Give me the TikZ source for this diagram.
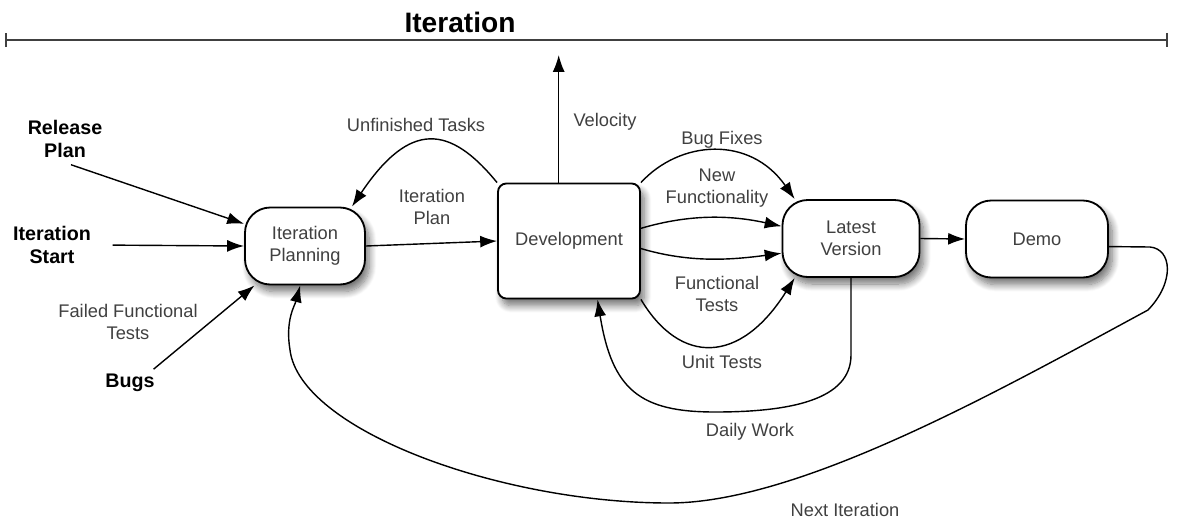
\documentclass[tikz,border=0pt]{standalone}
\usepackage{fontspec}
\setmainfont{Liberation Sans}
\usetikzlibrary{arrows.meta,shadows.blur,positioning}

\tikzset{
  arr/.style={-{Latex[length=12pt,width=8.5pt]}, line width=1pt},
  stepbox/.style={draw, line width=1.3pt, fill=white, rounded corners=18pt,
    align=center, text=black!75, font=\fontsize{13}{15.6}\selectfont,
    minimum height=1.925cm,
    blur shadow={shadow xshift=3pt, shadow yshift=-5pt, shadow blur steps=10, shadow blur radius=5pt, shadow opacity=55}},
  lbl/.style={align=center, text=black!75, font=\fontsize{13}{15.6}\selectfont},
  input/.style={align=center, font=\bfseries\fontsize{14}{16.4}\selectfont}
}

\begin{document}
\begin{tikzpicture}[x=0.025cm, y=-0.025cm]
		
		\useasboundingbox (0,0) rectangle (1184,521);
		
		% iteration span
		\node[font=\bfseries\fontsize{20}{24}\selectfont] (title) at (460,22) {Iteration};
		\coordinate (spanL) at (5,40);
		\coordinate (spanR) at (1168,40);
		\draw[{Bar[width=10pt]}-{Bar[width=10pt]}, line width=1.2pt, black!75] (spanL) -- (spanR);
		
		% boxes
		\node[stepbox, minimum width=3cm] (plan) at (305,246) {Iteration\\Planning};
		\node[stepbox, minimum width=3.55cm, minimum height=2.875cm, rounded corners=6pt] (dev) at (569,241) {Development};
		\node[stepbox, minimum width=3.425cm] (latest) at (851,238.5) {Latest\\Version};
		\node[stepbox, minimum width=3.55cm] (demo) at (1037,239) {Demo};
		
		% inputs
		\node[input] (release) at (65,139) {Release\\Plan};
		\node[input] (start) at (52,245) {Iteration\\Start};
		\node[input] (bugs) at (130,383) {Bugs};
		\node[lbl] (failed) at (128,322) {Failed Functional\\Tests};
		
		\draw[arr] (release.south) ++(6,2) -- (plan.160);
		\draw[arr, shorten <=12pt] (start.east) -- (plan.west);
		\draw[arr] (bugs.north east) ++(-6,0) -- (plan.218);
		
		% planning to development
		\node[lbl] (itplan) at (432,207) {Iteration\\Plan};
		\draw[arr] (plan.east) -- (dev.west);
		\node[lbl] (unfinished) at (416,125) {Unfinished Tasks};
		\draw[arr] (dev.north west) .. controls (450,125) and (410,120) .. (plan.40);
		
		\node[lbl] (velocity) at (605,122) {Velocity};
		\coordinate (vel) at (558,55);
		\draw[arr] (dev.100) -- (dev.100 |- vel);
		
		% development to latest version
		\node[lbl] (bugfix) at (722,140) {Bug Fixes};
		\draw[arr] (dev.north east) .. controls (680,140) and (750,135) .. (latest.145);
		\node[lbl] (newfunc) at (717,188) {New\\Functionality};
		\draw[arr] (dev.10) .. controls (690,214) and (730,215) .. (latest.170);
		\draw[arr] (dev.-6) .. controls (690,263) and (730,260) .. (latest.192);
		\node[lbl] (functests) at (717,294) {Functional\\Tests};
		\node[lbl] (unittests) at (722,362) {Unit Tests};
		\draw[arr] (dev.south east) .. controls (680,365) and (740,365) .. (latest.215);
		
		% daily work
		\node[lbl] (daily) at (750,432) {Daily Work};
		\draw[arr] (latest.south) -- (851,355) .. controls (851,400) and (790,412) .. (715,412)
		  .. controls (640,412) and (612,390) .. (dev.-64);
		
		\draw[arr] (latest.east) -- (demo.west);
		
		% next iteration
		\node[lbl] (nextit) at (845,510) {Next Iteration};
		\draw[arr] (demo.-6) -- (1150,247) .. controls (1172,249) and (1175,282) .. (1148,310)
		  .. controls (1000,390) and (800,503) .. (669,503)
		  .. controls (500,503) and (300,430) .. (290,350)
		  .. controls (285,320) and (295,305) .. (plan.-97);
		
		\end{tikzpicture}
\end{document}
